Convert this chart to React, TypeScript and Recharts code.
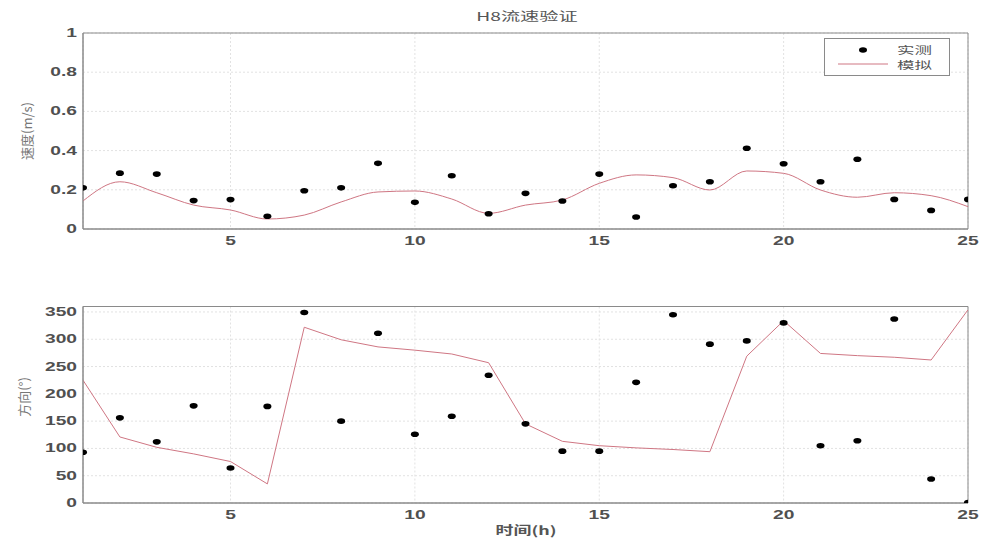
import React from 'react';
import { ComposedChart, Line, XAxis, YAxis, CartesianGrid, ReferenceArea, Legend } from 'recharts';

const hours = [1, 2, 3, 4, 5, 6, 7, 8, 9, 10, 11, 12, 13, 14, 15, 16, 17, 18, 19, 20, 21, 22, 23, 24, 25];
const speedMeasured = [0.21, 0.285, 0.28, 0.145, 0.15, 0.065, 0.195, 0.21, 0.335, 0.136, 0.272, 0.078, 0.182, 0.143, 0.28, 0.061, 0.221, 0.241, 0.412, 0.333, 0.241, 0.356, 0.151, 0.095, 0.151];
const speedSimulated = [0.143, 0.241, 0.185, 0.122, 0.097, 0.051, 0.071, 0.138, 0.189, 0.194, 0.153, 0.08, 0.122, 0.148, 0.233, 0.276, 0.262, 0.199, 0.296, 0.284, 0.199, 0.162, 0.185, 0.17, 0.114];
const dirMeasured = [93, 156, 112, 178, 64, 177, 349, 150, 311, 126, 159, 234, 145, 95, 95, 221, 345, 291, 297, 330, 105, 114, 337, 44, 1];
const dirSimulated = [225, 121, 102, 90, 76, 35, 322, 299, 286, 280, 273, 257, 145, 113, 105, 101, 98, 94, 269, 334, 274, 270, 267, 262, 354];

const xTicks = [5, 10, 15, 20, 25];
const speedTicks = [0, 0.2, 0.4, 0.6, 0.8, 1];
const dirTicks = [0, 50, 100, 150, 200, 250, 300, 350];

const titleText = 'H8流速验证';
const speedLabel = '速度(m/s)';
const dirLabel = '方向(°)';
const timeLabel = '时间(h)';
const legendNames = ['实测', '模拟'];

const speedData = hours.map((h, i) => ({ h, m: speedMeasured[i], s: speedSimulated[i] }));
const dirData = hours.map((h, i) => ({ h, m: dirMeasured[i], s: dirSimulated[i] }));

const LINE_COLOR = '#cf7683';
const TICK_FONT = '"Liberation Sans", Arial, sans-serif';
const CJK_FONT = '"Noto Sans CJK SC", "Noto Sans", sans-serif';
const SX = 1.6;

const XTick = (props: any) => {
  const { x, y, payload } = props;
  return (
    <text transform={`translate(${x},${y + 16}) scale(${SX},1)`} x={0} y={0} textAnchor="middle"
      fontSize={12} fontWeight="bold" fill="#505050" fontFamily={TICK_FONT}>
      {payload.value}
    </text>
  );
};

const YTick = (props: any) => {
  const { x, y, payload } = props;
  return (
    <text transform={`translate(${x - 6},${y + 4}) scale(${SX},1)`} x={0} y={0} textAnchor="end"
      fontSize={12} fontWeight="bold" fill="#505050" fontFamily={TICK_FONT}>
      {payload.value}
    </text>
  );
};

const renderDot = (props: any) => {
  const { cx, cy, index } = props;
  if (cx == null || cy == null) return <g key={`d${index}`} />;
  return <ellipse key={`d${index}`} cx={cx} cy={cy} rx={4} ry={2.8} fill="#000" />;
};

const LegendBox = () => (
  <div style={{ width: 126, height: 38, border: '1px solid #8a8a8a', background: '#fff', boxSizing: 'border-box' }}>
    <svg width={124} height={36} style={{ display: 'block' }}>
      <ellipse cx={38} cy={11} rx={4} ry={2.8} fill="#000" />
      <line x1={13} y1={25} x2={63} y2={25} stroke={LINE_COLOR} strokeWidth={1} />
      <text transform={`translate(72,15) scale(1.75,1)`} fontSize={10} fill="#555" fontFamily={CJK_FONT}>{legendNames[0]}</text>
      <text transform={`translate(72,30) scale(1.75,1)`} fontSize={10} fill="#555" fontFamily={CJK_FONT}>{legendNames[1]}</text>
    </svg>
  </div>
);

export default function App() {
  return (
    <div style={{ position: 'absolute', left: 0, top: 0, width: 981, height: 540, background: '#fff', overflow: 'hidden' }}>
      <div style={{ position: 'absolute', left: 0, top: 0 }}>
        <ComposedChart width={981} height={262} data={speedData} margin={{ top: 33, right: 13, left: 0, bottom: 3 }}>
          <CartesianGrid stroke="#e2e2e2" strokeDasharray="2 2" />
          <XAxis dataKey="h" type="number" domain={[1, 25]} ticks={xTicks} allowDataOverflow height={30}
            axisLine={{ stroke: '#8a8a8a' }} tickLine={false} tickSize={0} tickMargin={0} tick={<XTick />} />
          <YAxis type="number" domain={[0, 1]} ticks={speedTicks} allowDataOverflow width={83}
            axisLine={{ stroke: '#8a8a8a' }} tickLine={false} tickSize={0} tickMargin={0} tick={<YTick />} />
          <ReferenceArea x1={1} x2={25} y1={0} y2={1} fill="none" stroke="#8a8a8a" ifOverflow="visible" />
          <Line dataKey="s" type="monotone" stroke={LINE_COLOR} strokeWidth={1} dot={false} activeDot={false} isAnimationActive={false} name={legendNames[1]} />
          <Line dataKey="m" stroke="none" dot={renderDot} activeDot={false} isAnimationActive={false} name={legendNames[0]} />
          <Legend layout="horizontal" verticalAlign="middle" align="center" content={() => <LegendBox />}
            wrapperStyle={{ position: 'absolute', left: 824, top: 38, width: 126, height: 38 }} />
        </ComposedChart>
      </div>
      <div style={{ position: 'absolute', left: 0, top: 270 }}>
        <ComposedChart width={981} height={270} data={dirData} margin={{ top: 36.5, right: 13, left: 0, bottom: 7 }}>
          <CartesianGrid stroke="#e2e2e2" strokeDasharray="2 2" />
          <XAxis dataKey="h" type="number" domain={[1, 25]} ticks={xTicks} allowDataOverflow height={30}
            axisLine={{ stroke: '#8a8a8a' }} tickLine={false} tickSize={0} tickMargin={0} tick={<XTick />} />
          <YAxis type="number" domain={[0, 360]} ticks={dirTicks} allowDataOverflow width={83}
            axisLine={{ stroke: '#8a8a8a' }} tickLine={false} tickSize={0} tickMargin={0} tick={<YTick />} />
          <ReferenceArea x1={1} x2={25} y1={0} y2={360} fill="none" stroke="#8a8a8a" ifOverflow="visible" />
          <Line dataKey="s" type="linear" stroke={LINE_COLOR} strokeWidth={1} dot={false} activeDot={false} isAnimationActive={false} />
          <Line dataKey="m" stroke="none" dot={renderDot} activeDot={false} isAnimationActive={false} />
        </ComposedChart>
      </div>
      <div style={{ position: 'absolute', left: 527, top: 16, transform: `translate(-50%,-50%) scaleX(1.6)`, fontFamily: CJK_FONT, fontSize: 12, color: '#555', whiteSpace: 'nowrap', lineHeight: 1 }}>
        {titleText}
      </div>
      <div style={{ position: 'absolute', left: 26, top: 131, transform: 'translate(-50%,-50%) rotate(-90deg)', fontFamily: CJK_FONT, fontSize: 13, color: '#777', whiteSpace: 'nowrap', lineHeight: 1 }}>
        {speedLabel}
      </div>
      <div style={{ position: 'absolute', left: 23, top: 397, transform: 'translate(-50%,-50%) rotate(-90deg)', fontFamily: CJK_FONT, fontSize: 13, color: '#777', whiteSpace: 'nowrap', lineHeight: 1 }}>
        {dirLabel}
      </div>
      <div style={{ position: 'absolute', left: 526, top: 530, transform: 'translate(-50%,-50%) scaleX(1.5)', fontFamily: CJK_FONT, fontSize: 12, color: '#555', whiteSpace: 'nowrap', lineHeight: 1, fontWeight: 'bold' }}>
        {timeLabel}
      </div>
    </div>
  );
}
